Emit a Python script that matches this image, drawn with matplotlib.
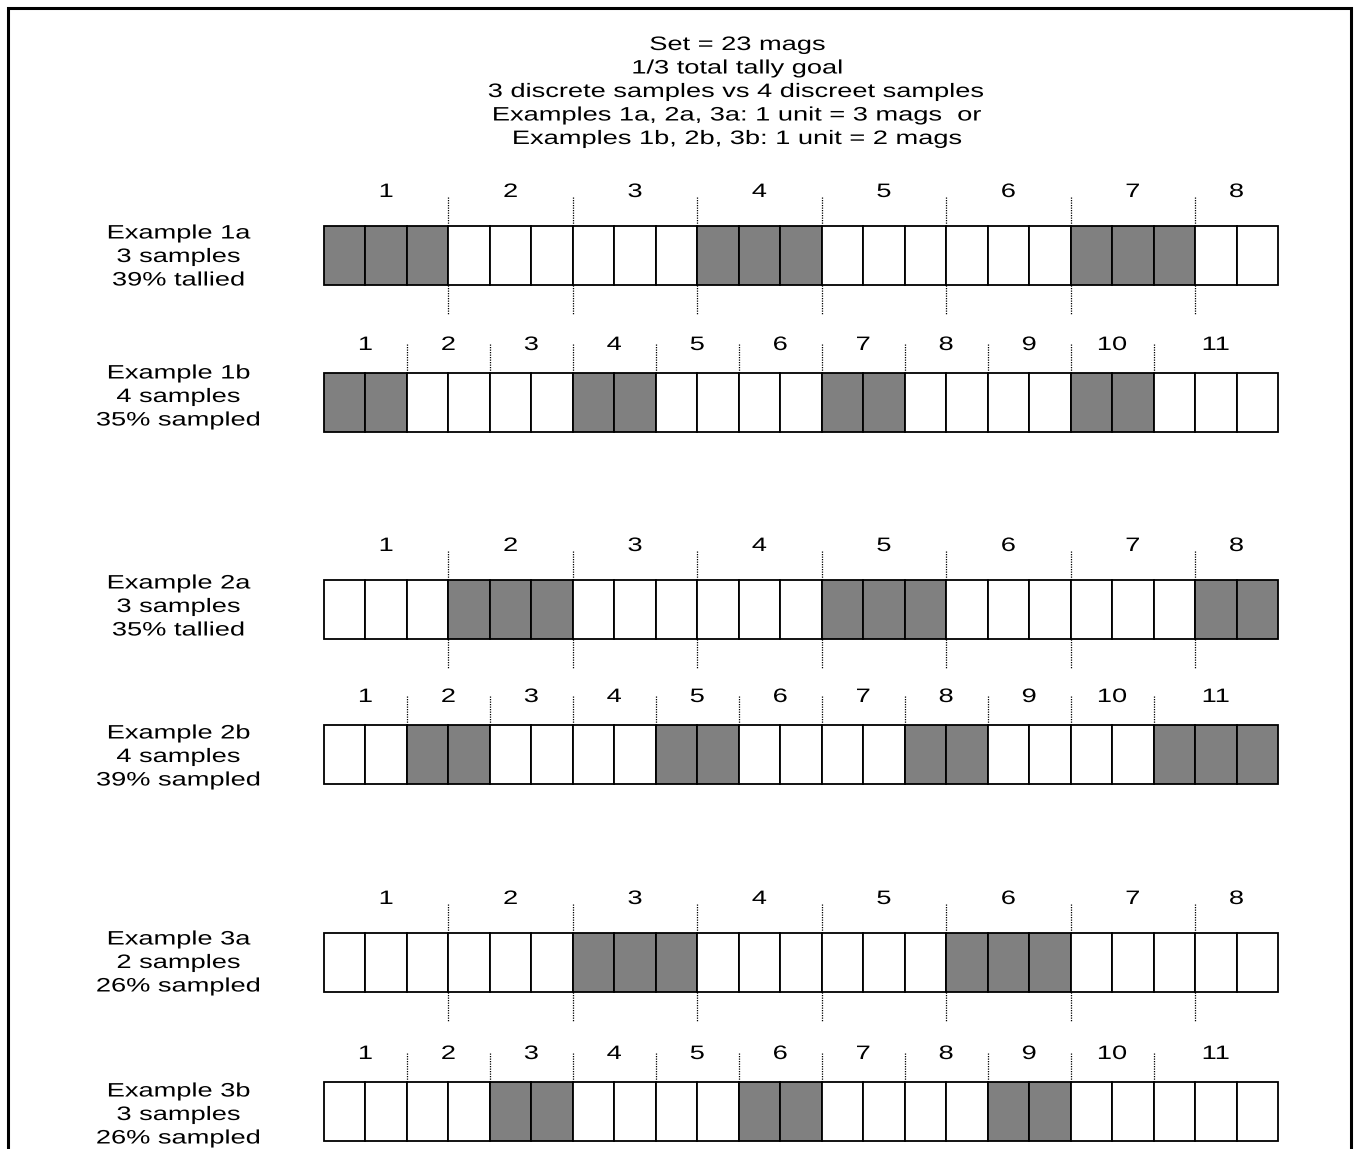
import matplotlib
matplotlib.use("Agg")
import matplotlib.pyplot as plt
from matplotlib.patches import Rectangle
from matplotlib.patheffects import AbstractPathEffect
from matplotlib.transforms import Affine2D

plt.rcParams['font.family'] = ['Liberation Sans', 'DejaVu Sans']

# ---- data ----
n_cells = 23
title_lines = ["Set = 23 mags", "1/3 total tally goal",
               "3 discrete samples vs 4 discreet samples",
               "Examples 1a, 2a, 3a: 1 unit = 3 mags  or",
               "Examples 1b, 2b, 3b: 1 unit = 2 mags"]
row_names = ["Example 1a", "Example 1b", "Example 2a", "Example 2b", "Example 3a", "Example 3b"]
row_samples = ["3 samples", "4 samples", "3 samples", "4 samples", "2 samples", "3 samples"]
row_pct = ["39% tallied", "35% sampled", "35% tallied", "39% sampled", "26% sampled", "26% sampled"]
row_unit = [3, 2, 3, 2, 3, 2]          # mags per unit
row_n_units = [8, 11, 8, 11, 8, 11]    # number of units (last unit takes the remainder)
shaded = [
    [0, 1, 2, 9, 10, 11, 18, 19, 20],
    [0, 1, 6, 7, 12, 13, 18, 19],
    [3, 4, 5, 12, 13, 14, 21, 22],
    [2, 3, 8, 9, 14, 15, 20, 21, 22],
    [6, 7, 8, 15, 16, 17],
    [4, 5, 10, 11, 16, 17],
]

# ---- layout (pixels) ----
W, H = 1357, 1149
x0, x1 = 324, 1278
cw = (x1 - x0) / n_cells
row_top = [226, 373, 580, 725, 933, 1082]
row_h = 59
label_cy = [255, 395, 605, 755, 961, 1113]
TY = 2.5   # text vertical nudge
STRETCH = 1.4


class XStretch(AbstractPathEffect):
    """Draw text glyphs horizontally stretched about a given display x."""
    def __init__(self, sx, cx):
        super().__init__()
        self.sx = sx
        self.cx = cx

    def draw_path(self, renderer, gc, tpath, affine, rgbFace=None):
        t = affine + Affine2D().translate(-self.cx, 0).scale(self.sx, 1).translate(self.cx, 0)
        renderer.draw_path(gc, tpath, t, rgbFace)


fig = plt.figure(figsize=(W / 100, H / 100), dpi=100)
ax = fig.add_axes([0, 0, 1, 1])
ax.set_xlim(-x0 / cw, (W - x0) / cw)
ax.set_ylim(H, 0)
ax.axis('off')


def px(x):
    return (x - x0) / cw


def stext(x, y, s, fs=14):
    y = y + TY
    cx = ax.transData.transform((x, y))[0]
    return ax.text(x, y, s, ha='center', va='center', fontsize=fs,
                   path_effects=[XStretch(STRETCH, cx)])


# frame
lx, rx = px(8), px(1351)
ax.plot([lx, lx, rx, rx], [H + 5, 8, 8, H + 5], color='black', lw=2.2,
        solid_joinstyle='miter')

for i, t in enumerate(title_lines):
    stext(px(738), 43 + i * 23.5, t)

for r in range(6):
    top = row_top[r]
    u = row_unit[r]
    for c in range(n_cells):
        fc = '#808080' if c in shaded[r] else 'white'
        ax.add_patch(Rectangle((c, top), 1, row_h, facecolor=fc, edgecolor='black', lw=1.3))
    cy = label_cy[r]
    for k, t in enumerate([row_names[r], row_samples[r], row_pct[r]]):
        stext(px(179), cy + (k - 1) * 23.5, t)
    nu = row_n_units[r]
    lab_off = 36 if u == 3 else 30
    for k in range(nu):
        s = k * u
        e = n_cells if k == nu - 1 else s + u
        stext((s + e) / 2, top - lab_off, str(k + 1))
        if k > 0:
            ax.plot([s, s], [top - 29, top], color='black', lw=0.9, ls=(0, (1, 1)))
            if u == 3:
                ax.plot([s, s], [top + row_h, top + row_h + 30], color='black', lw=0.9,
                        ls=(0, (1, 1)))

fig.savefig('out.png', dpi=100)
